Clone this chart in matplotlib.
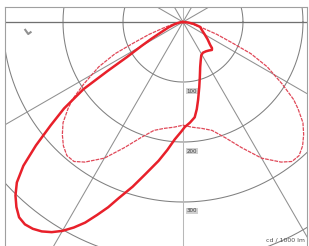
import numpy as np
import matplotlib
matplotlib.use('Agg')
import matplotlib.pyplot as plt

# polar intensity data, gamma in degrees from nadir (negative = left)
gamma_solid = [-90, -85, -80, -75, -70, -65, -62, -60, -58, -57, -56, -54, -52, -50,
               -48, -46, -44, -42, -40, -38, -36, -34, -32, -30, -28, -26, -24, -22,
               -20, -17, -14, -10, -7, -4, -1, 1, 4, 7, 9, 11, 14, 17, 21, 25, 29,
               33, 38, 42, 46, 48, 50, 55, 60, 65, 70, 74, 80, 85, 90]
cd_solid = [0, 3, 8, 15, 25, 40, 60, 80, 110, 150, 200, 245, 280, 320,
            358, 385, 402, 415, 425, 428, 426, 421, 413, 402, 388, 372, 352, 333,
            312, 287, 262, 235, 215, 196, 183, 175, 168, 160, 147, 132, 112, 96, 80, 70, 63,
            61, 62, 64, 67, 65, 59, 50, 42, 36, 32, 30, 18, 8, 0]

gamma_dash_half = [0, 5, 10, 15, 20, 25, 30, 35, 38, 41, 44, 47, 50, 53, 55, 58,
                   62, 65, 67, 70, 74, 80, 85, 90]
cd_dash_half = [172, 176, 180, 187, 205, 231, 262, 285, 295, 295, 287, 275, 261, 240, 225, 195,
                159, 125, 90, 60, 30, 12, 5, 0]

ring_values = [100, 200, 300, 400]
ring_labels = ['100', '200', '300']
spoke_angles = [0, 30, 60, 90, 120, 150, 180, 210, 240, 270, 300, 330]
unit_label = 'cd / 1000 lm'


def to_xy(g, r):
    g = np.radians(np.asarray(g, dtype=float))
    r = np.asarray(r, dtype=float)
    return r * np.sin(g), -r * np.cos(g)


fig = plt.figure(figsize=(3.09, 2.46), dpi=100)
ax = fig.add_axes([5 / 309, 0, 302 / 309, 239 / 246])
ax.set_xlim(-296.7, 206.7)
ax.set_ylim(-373.3, 25)
ax.set_aspect('equal')
ax.set_xticks([])
ax.set_yticks([])
for side in ['left', 'top', 'right']:
    ax.spines[side].set_color('#a0a0a0')
    ax.spines[side].set_linewidth(0.8)
ax.spines['bottom'].set_visible(False)

# grid
t = np.linspace(0, 2 * np.pi, 400)
for rv in ring_values:
    ax.plot(rv * np.cos(t), rv * np.sin(t), color='#808080', lw=0.75, zorder=1)
for a in spoke_angles:
    x, y = to_xy([a, a], [0, 700])
    col = '#909090'
    if a in (0, 180):
        col = '#b8b8b8'
    ax.plot(x, y, color=col, lw=0.75, zorder=1)
ax.axhline(0, color='#707070', lw=0.9, zorder=1)

for rv, lab in zip(ring_values, ring_labels):
    ax.text(15, -rv - 15, lab, fontsize=4, color='#404040', ha='center', va='center',
            bbox=dict(facecolor='#d0d0d0', edgecolor='none', pad=0.6), zorder=2)

ax.text(203, -364, unit_label, fontsize=4.5, color='#505050', ha='right', va='center')

# small luminaire symbol top left
ax.plot([-263, -258, -254], [-13, -20, -17], color='#909090', lw=1.5)

# curves
gd = [-g for g in gamma_dash_half[::-1]] + gamma_dash_half[1:]
cdd = cd_dash_half[::-1] + cd_dash_half[1:]
xd, yd = to_xy(gd, cdd)
ax.plot(xd, yd, color='#e04858', lw=0.9, ls=(0, (3, 0.8)), zorder=3)

xs, ys = to_xy(gamma_solid, cd_solid)
ax.plot(xs, ys, color='#e8202a', lw=1.8, zorder=4, solid_joinstyle='round')

fig.savefig('out.png', dpi=100)
